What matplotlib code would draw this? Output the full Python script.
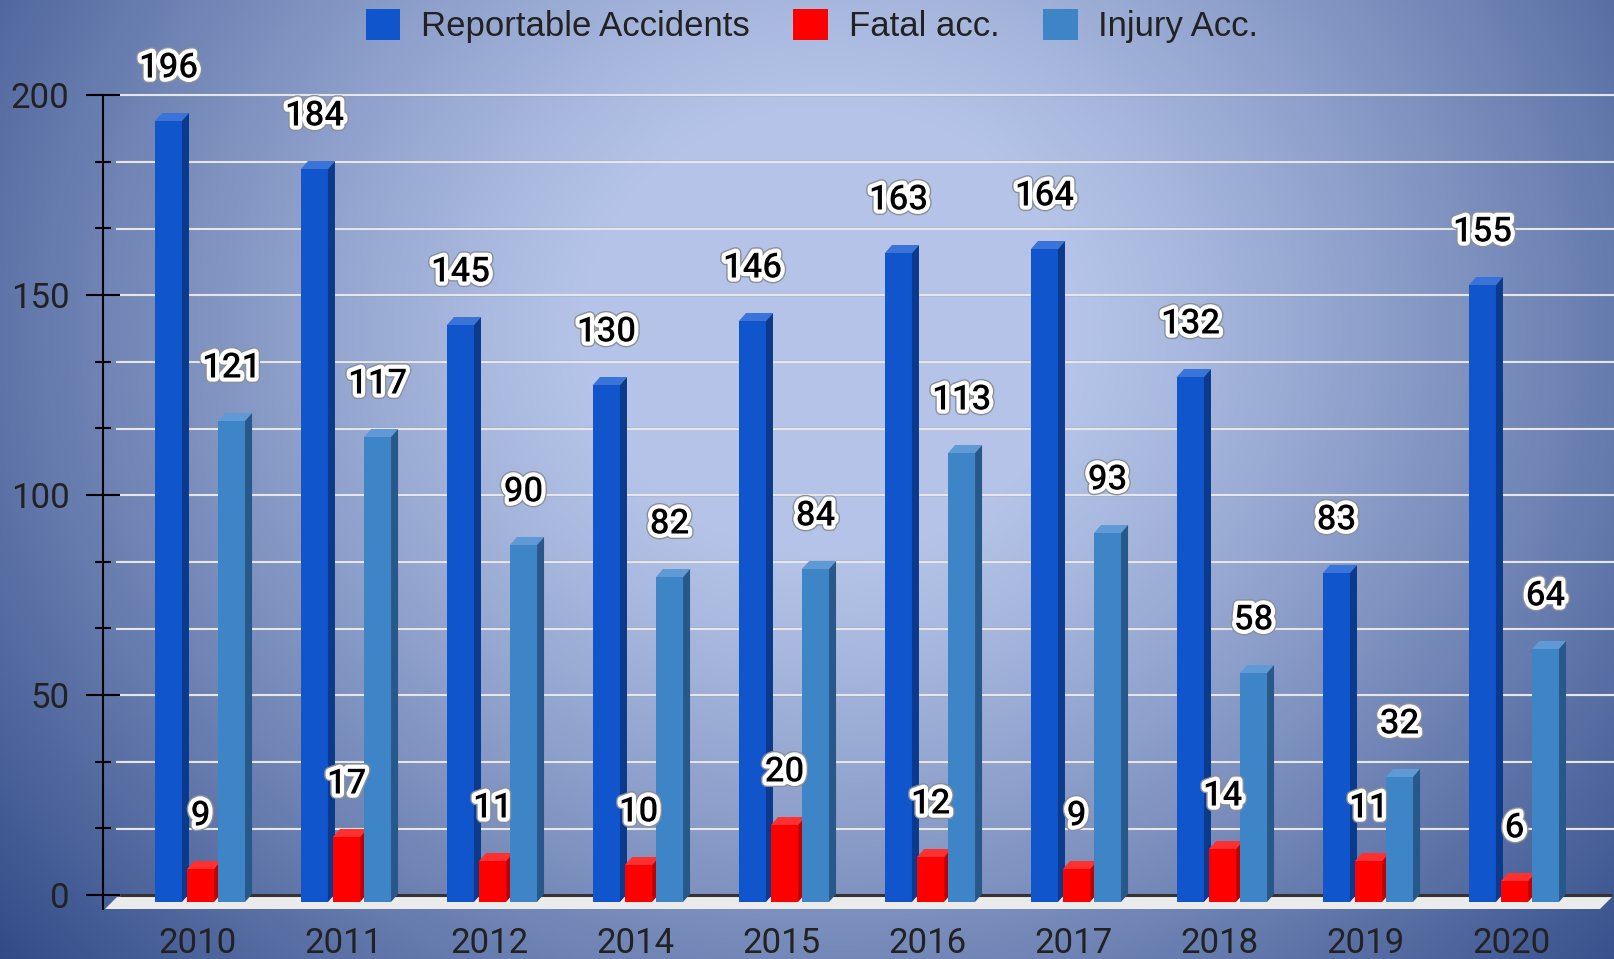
import numpy as np
import matplotlib
matplotlib.use("Agg")
import matplotlib.pyplot as plt
from matplotlib.patches import Polygon, Rectangle, Patch
from matplotlib.ticker import FixedLocator
import matplotlib.patheffects as pe

# ---------------- data ----------------
years = ['2010', '2011', '2012', '2014', '2015', '2016', '2017', '2018', '2019', '2020']
reportable = [196, 184, 145, 130, 146, 163, 164, 132, 83, 155]
fatal = [9, 17, 11, 10, 20, 12, 9, 14, 11, 6]
injury = [121, 117, 90, 82, 84, 113, 93, 58, 32, 64]
series_names = ['Reportable Accidents', 'Fatal acc.', 'Injury Acc.']
y_ticks = [0, 50, 100, 150, 200]

# ---------------- styling ----------------
W, H, DPI = 1615, 959, 100
front_cols = ['#1155cc', '#ff0000', '#3d85c6']
side_cols = ['#0b3a8c', '#c20000', '#28588a']
top_cols = ['#3b74d8', '#ff3030', '#5f9ad6']
offsets = [-0.288, -0.068, 0.144]
bw = 0.185
ddx, ddy = 0.048, 2.0
front_bottom = -1.75

fig = plt.figure(figsize=(W / DPI, H / DPI), dpi=DPI)

# background radial gradient
bg = fig.add_axes([0, 0, 1, 1], zorder=-10)
yy, xx = np.mgrid[0:H, 0:W]
cx, cy = 830, 330
r = np.sqrt((xx - cx) ** 2 + ((yy - cy) / 0.9) ** 2)
t = np.clip((r - 250) / 880, 0, 1) ** 1.15
inner = np.array([180, 195, 231]) / 255
outer = np.array([42, 68, 130]) / 255
img = inner[None, None, :] + t[..., None] * (outer - inner)[None, None, :]
bg.imshow(img, aspect='auto', extent=[0, 1, 0, 1], origin='upper')
bg.axis('off')

# main axes: left edge at spine (x=103px), bottom at floor bottom (y=909px)
left_px, bottom_px = 103, 909
ax = fig.add_axes([left_px / W, (H - bottom_px) / H, 1 - left_px / W, bottom_px / H])
ax.patch.set_alpha(0)
px_per_cat = 146
x0_px = 197
ax.set_xlim((left_px - x0_px) / px_per_cat, (W - x0_px) / px_per_cat)
ax.set_ylim(-3.5, -3.5 + bottom_px / 4)

n = len(years)
idx = np.arange(n)

# floor
back_left = (117 - x0_px) / px_per_cat
front_left = (105 - x0_px) / px_per_cat
back_right = n - 1 + (1612 - 1511) / px_per_cat
front_right = n - 1 + (1600 - 1511) / px_per_cat
ax.add_patch(Polygon([(front_left, -3.5), (front_right, -3.5), (back_right, -0.5), (back_left, -0.5)],
                     closed=True, facecolor='#ebebeb', edgecolor='none', zorder=1))
ax.plot([back_left + 0.02, back_right], [0, 0], color='#333333', lw=2.2, zorder=1.5,
        solid_capstyle='butt')

# gridlines
grid_vals = np.arange(1, 13) * 50 / 3
xr = ax.get_xlim()[1]
for g in grid_vals:
    ax.plot([back_left, xr], [g + 0.12, g + 0.12], color='#8f949c', lw=1.0, zorder=1)
    ax.plot([back_left, xr], [g - 0.1, g - 0.1], color='#e6e6e6', lw=1.5, zorder=1)

# 3D-ish bars
all_series = [reportable, fatal, injury]
for s, vals in enumerate(all_series):
    for i, v in zip(idx, vals):
        x = i + offsets[s]
        ft = v - 2.5
        ax.add_patch(Rectangle((x, front_bottom), bw, ft - front_bottom,
                               facecolor=front_cols[s], edgecolor='none', zorder=3))
        ax.add_patch(Polygon([(x, ft), (x + bw, ft), (x + bw + ddx, ft + ddy), (x + ddx, ft + ddy)],
                             closed=True, facecolor=top_cols[s], edgecolor='none', zorder=3))
        ax.add_patch(Polygon([(x + bw, front_bottom), (x + bw, ft), (x + bw + ddx, ft + ddy),
                              (x + bw + ddx, front_bottom + ddy)],
                             closed=True, facecolor=side_cols[s], edgecolor='none', zorder=3))
        ax.annotate(str(v), xy=(x + bw / 2, v), xytext=(0, 43 * 0.72), textcoords='offset points',
                    ha='center', va='center', fontsize=25, family='Roboto', fontweight='medium',
                    color='black', zorder=5,
                    path_effects=[pe.withStroke(linewidth=8, foreground='#8a8f9a'),
                                  pe.withStroke(linewidth=6, foreground='white')])

# axes / ticks
for sp in ['top', 'right', 'bottom']:
    ax.spines[sp].set_visible(False)
ax.spines['left'].set_bounds(-3.5, 200)
ax.spines['left'].set_linewidth(1.5)
ax.spines['left'].set_color('black')
ax.yaxis.set_major_locator(FixedLocator(y_ticks))
ax.yaxis.set_minor_locator(FixedLocator([v for v in grid_vals if v < 199.9]))
ax.tick_params(axis='y', which='major', direction='inout', length=24.5, width=1.5, pad=12,
               labelsize=25, colors='black', labelcolor='#222222')
ax.tick_params(axis='y', which='minor', direction='inout', length=12, width=1.5, colors='black')
for lab in ax.get_yticklabels():
    lab.set_family('Roboto')
ax.set_xticks(idx)
ax.set_xticklabels(years, family='Roboto', fontsize=25, color='#222222')
ax.tick_params(axis='x', length=0, pad=13)

# legend
handles = [Patch(facecolor=c, edgecolor='none') for c in front_cols]
fig.legend(handles, series_names, loc='center', bbox_to_anchor=(812 / W, 1 - 26 / H), ncol=3,
           frameon=False, handlelength=1.0, handleheight=1.0, handletextpad=0.6,
           columnspacing=1.25, prop={'family': 'Liberation Sans', 'size': 25})
for txt in fig.legends[0].get_texts():
    txt.set_color('#222222')

fig.savefig('out.png', dpi=DPI)
